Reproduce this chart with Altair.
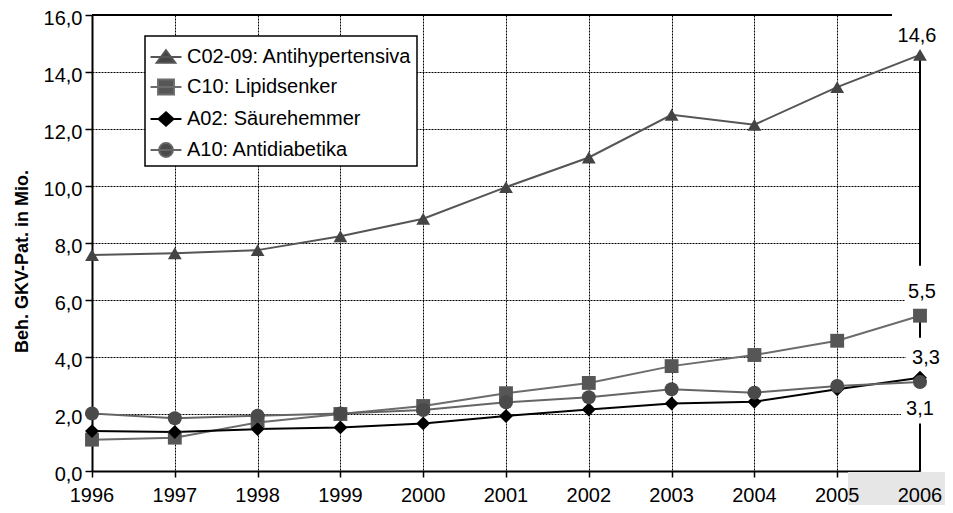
import altair as alt
import pandas as pd

years = [1996, 1997, 1998, 1999, 2000, 2001, 2002, 2003, 2004, 2005, 2006]
series_names = ["C02-09: Antihypertensiva", "C10: Lipidsenker",
                "A02: Säurehemmer", "A10: Antidiabetika"]
antihypertensiva = [7.58, 7.64, 7.75, 8.24, 8.85, 9.96, 11.0, 12.5, 12.15, 13.47, 14.6]
lipidsenker = [1.1, 1.17, 1.7, 2.0, 2.28, 2.73, 3.09, 3.68, 4.07, 4.57, 5.45]
saeurehemmer = [1.4, 1.37, 1.47, 1.53, 1.67, 1.93, 2.16, 2.37, 2.43, 2.87, 3.27]
antidiabetika = [2.02, 1.85, 1.94, 2.02, 2.14, 2.41, 2.59, 2.87, 2.75, 2.98, 3.12]
end_labels = ["14,6", "5,5", "3,3", "3,1"]

y_ticks = [0, 2, 4, 6, 8, 10, 12, 14, 16]
y_title = "Beh. GKV-Pat. in Mio."

marker_colors = ["#444444", "#565656", "#000000", "#4a4a4a"]
line_colors = ["#555555", "#6c6c6c", "#000000", "#656565"]
point_shapes = ["triangle-up", "square", "diamond", "circle"]
point_sizes = [190, 196, 150, 150]
legend_paths = [
    "M-1.03,0L1.03,0M0,-0.45L0.62,0.38L-0.62,0.38Z",
    "M-1.03,0L1.03,0M-0.53,-0.5L0.53,-0.5L0.53,0.5L-0.53,0.5Z",
    "M-1.03,0L1.03,0M0,-0.45L0.5,0L0,0.45L-0.5,0Z",
    "M-1.03,0L1.03,0M-0.46,0A0.46,0.46,0,1,0,0.46,0A0.46,0.46,0,1,0,-0.46,0Z",
]

FONT = "Liberation Sans"
all_values = [antihypertensiva, lipidsenker, saeurehemmer, antidiabetika]
rows = []
for name, vals in zip(series_names, all_values):
    for yr, v in zip(years, vals):
        rows.append({"year": yr, "value": v, "series": name})
df = pd.DataFrame(rows)

x_scale = alt.Scale(domain=[years[0], years[-1]], nice=False, zero=False)
y_scale = alt.Scale(domain=[y_ticks[0], y_ticks[-1]], nice=False)

x_axis = alt.Axis(values=years, labels=False, title=None,
                  tickSize=6, tickColor="black", tickWidth=1.5,
                  domainColor="black", domainWidth=2, grid=True, gridColor="black",
                  gridDash=[2, 1], gridWidth=1, gridOpacity=1)
y_axis = alt.Axis(values=y_ticks, labelExpr="replace(format(datum.value, '.1f'), '.', ',')",
                  title=y_title, titleFont=FONT, titleFontSize=18, titleFontWeight="bold",
                  titleColor="black", titlePadding=12, titleY=246,
                  labelFontSize=20, labelFont=FONT, labelOffset=3,
                  labelColor="black", tickSize=7, tickColor="black", tickWidth=1.5,
                  domainColor="black", domainWidth=2, grid=True, gridColor="black",
                  gridDash=[2, 1], gridWidth=1, gridOpacity=1, labelPadding=3)

X = alt.X("year:Q", scale=x_scale, axis=x_axis)
Y = alt.Y("value:Q", scale=y_scale, axis=y_axis)

# scan artefact in the bottom-right corner
corner = alt.Chart(pd.DataFrame({"a": [0]})).mark_rect(color="#e6e6e6", clip=False).encode(
    x=alt.value(756), x2=alt.value(870), y=alt.value(457), y2=alt.value(520))

# year labels below the x axis (drawn as text so they sit above the corner artefact)
year_df = pd.DataFrame({"year": years, "value": [y_ticks[0]] * len(years),
                        "txt": [str(y) for y in years]})
year_labels = alt.Chart(year_df).mark_text(font=FONT, fontSize=20, color="black",
                                           baseline="middle", dy=25).encode(
    x=X, y=Y, text="txt:N")

lines = alt.Chart(df).mark_line(strokeWidth=2).encode(
    x=X, y=Y,
    color=alt.Color("series:N", scale=alt.Scale(domain=series_names, range=line_colors), legend=None),
    detail="series:N")

# frame lines: top border and right axis line
frame_df = pd.DataFrame({"year": [years[0]], "year2": [years[-1]],
                         "value": [y_ticks[0]], "value2": [y_ticks[-1]]})
top_rule = alt.Chart(frame_df).mark_rule(color="black", strokeWidth=2).encode(
    x=X, x2="year2:Q", y=alt.Y("value2:Q", scale=y_scale, axis=y_axis))
right_rule = alt.Chart(frame_df).mark_rule(color="black", strokeWidth=2).encode(
    x=alt.X("year2:Q", scale=x_scale, axis=x_axis), y=Y, y2="value2:Q")

# end-of-line labels with white boxes
last_vals = [vals[-1] for vals in all_values]
label_dx = [-3, 2, 6, 0]
label_dy = [-19, -24, -20, 27]
box_dx = [-2, 5, 6, 1]
box_dy = [-21, -28, -21, 23]
box_w = [52, 40, 40, 40]
box_h = [40, 44, 38, 37]

boxes = []
labels = []
for i in range(4):
    d = pd.DataFrame({"year": [years[-1]], "value": [last_vals[i]], "txt": [end_labels[i]]})
    hw = box_w[i] / 2.0
    r = (box_h[i] / 2.0) / hw
    path = f"M-1,-{r:.3f}L1,-{r:.3f}L1,{r:.3f}L-1,{r:.3f}Z"
    boxes.append(alt.Chart(d).mark_point(shape=path, size=box_w[i] ** 2, filled=True,
                                         fill="white", stroke=None, opacity=1,
                                         xOffset=box_dx[i], yOffset=box_dy[i]).encode(
        x=X, y=Y))
    labels.append(alt.Chart(d).mark_text(font=FONT, fontSize=20, color="black",
                                         dx=label_dx[i], dy=label_dy[i]).encode(
        x=X, y=Y, text="txt:N"))

points = alt.Chart(df).mark_point(filled=True, opacity=1).encode(
    x=X, y=Y,
    color=alt.Color("series:N", scale=alt.Scale(domain=series_names, range=marker_colors), legend=None),
    shape=alt.Shape("series:N", scale=alt.Scale(domain=series_names, range=point_shapes), legend=None),
    size=alt.Size("series:N", scale=alt.Scale(domain=series_names, range=point_sizes), legend=None))

legend_layer = alt.Chart(df).transform_filter("false").mark_point(filled=True, opacity=1).encode(
    x=X, y=Y,
    shape=alt.Shape("series:N", scale=alt.Scale(domain=series_names, range=legend_paths),
                    legend=alt.Legend(title=None)),
    fill=alt.Fill("series:N", scale=alt.Scale(domain=series_names, range=marker_colors),
                  legend=alt.Legend(title=None)),
    stroke=alt.Stroke("series:N", scale=alt.Scale(domain=series_names, range=line_colors),
                      legend=alt.Legend(title=None)))

chart = alt.layer(
    corner, year_labels, top_rule, right_rule, *boxes, lines, points, *labels, legend_layer
).resolve_scale(
    color="independent", shape="independent", fill="independent", stroke="independent"
).properties(
    width=828, height=456,
    autosize=alt.AutoSizeParams(type="none"),
    padding={"left": 84, "top": 7, "right": 25, "bottom": 34},
    background="white",
).configure_view(stroke=None).configure_legend(
    orient="none", legendX=53, legendY=21, padding=5, strokeColor="black", strokeWidth=1.5,
    fillColor="white", symbolSize=900, symbolStrokeWidth=2, labelFont=FONT, labelFontSize=20,
    labelColor="black", labelOffset=5, rowPadding=4, labelLimit=400
)

chart.save("out.html", embed_options={"renderer": "svg", "actions": False})
